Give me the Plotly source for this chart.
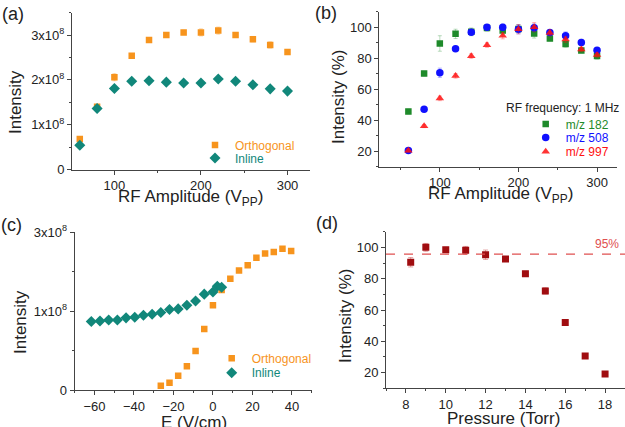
import plotly.graph_objects as go

# ---------------- data ----------------
# (a) intensity vs RF amplitude
rf_a = [60, 80, 100, 120, 140, 160, 180, 200, 220, 240, 260, 280, 300]
orth_a = [0.68e8, 1.40e8, 2.06e8, 2.54e8, 2.89e8, 3.00e8, 3.06e8, 3.06e8, 3.10e8, 3.00e8, 2.91e8, 2.78e8, 2.62e8]
orth_a_err = [0.05e8, 0.04e8, 0.08e8, 0.04e8, 0.04e8, 0.05e8, 0.05e8, 0.08e8, 0.08e8, 0.04e8, 0.06e8, 0.07e8, 0.04e8]
inl_a = [0.54e8, 1.36e8, 1.81e8, 1.97e8, 1.98e8, 1.95e8, 1.93e8, 1.93e8, 2.02e8, 1.97e8, 1.89e8, 1.80e8, 1.75e8]
inl_a_err = [0.03e8, 0.03e8, 0.03e8, 0.03e8, 0.03e8, 0.03e8, 0.03e8, 0.03e8, 0.03e8, 0.03e8, 0.03e8, 0.03e8, 0.03e8]

# (b) normalised intensity vs RF amplitude (1 MHz)
rf_b = [60, 80, 100, 120, 140, 160, 180, 200, 220, 240, 260, 280, 300]
mz182 = [45.6, 70.1, 89.5, 95.7, 97.0, 99.5, 97.9, 98.9, 96.0, 92.7, 89.1, 85.0, 81.4]
mz182_err = [1.5, 1.5, 5.0, 3.0, 2.5, 2.0, 2.5, 2.5, 3.0, 1.5, 2.0, 1.5, 2.0]
mz508 = [20.4, 47.1, 70.6, 86.1, 96.8, 100.0, 100.0, 98.7, 99.6, 96.6, 94.5, 90.2, 85.1]
mz508_err = [1.0, 1.0, 3.0, 1.5, 1.5, 1.5, 2.0, 3.0, 2.5, 1.5, 2.5, 2.0, 1.5]
mz997 = [20.4, 36.2, 54.1, 68.6, 81.4, 88.5, 94.5, 98.7, 100.0, 96.4, 92.1, 85.7, 82.1]
mz997_err = [1.0, 1.0, 1.5, 1.5, 1.5, 1.5, 2.0, 3.0, 3.0, 2.0, 2.0, 1.5, 1.5]

# (c) intensity vs field strength
e_orth = [-26.4, -22.0, -17.6, -13.2, -8.8, -4.4, 0.0, 4.4, 8.8, 13.2, 17.6, 22.0, 26.4, 30.8, 35.2, 39.6]
orth_c = [0.08e8, 0.14e8, 0.27e8, 0.45e8, 0.74e8, 1.16e8, 1.61e8, 1.90e8, 2.11e8, 2.27e8, 2.37e8, 2.51e8, 2.59e8, 2.62e8, 2.68e8, 2.64e8]
e_inl = [-61.6, -57.2, -52.8, -48.4, -44.0, -39.6, -35.2, -30.8, -26.4, -22.0, -17.6, -13.2, -8.8, -4.4, 0.0, 2.2, 4.4]
inl_c = [1.30e8, 1.31e8, 1.33e8, 1.33e8, 1.37e8, 1.38e8, 1.42e8, 1.44e8, 1.47e8, 1.53e8, 1.54e8, 1.61e8, 1.69e8, 1.82e8, 1.86e8, 1.97e8, 1.95e8]
c_tickvals = [0, 1.5e8, 3e8]
c_ticktext = ["0", "1x10<sup>8</sup>", "3x10<sup>8</sup>"]

# (d) normalised intensity vs pressure
pressure = [8.24, 9, 10, 11, 12, 13, 14, 15, 16, 17, 18]
int_d = [90.5, 100.0, 98.5, 98.1, 95.3, 92.6, 83.2, 72.2, 52.0, 30.6, 19.1]
int_d_err = [3.0, 2.5, 1.5, 2.5, 3.0, 1.5, 1.5, 2.0, 1.0, 1.0, 1.0]
threshold = 95.7

a_ticktext = ["0", "1x10<sup>8</sup>", "2x10<sup>8</sup>", "3x10<sup>8</sup>"]
a_tickvals = [0, 1e8, 2e8, 3e8]

# ---------------- styling ----------------
ORANGE = "#f7941d"
TEAL = "#11877a"
GREEN = "#1e8a2a"
BLUE = "#1010ff"
RED = "#ff1010"
DRED = "#a00d10"
AX = "#444444"
TXT = "#222222"
FONT = "Liberation Sans, Arial, sans-serif"
W, H = 625, 427


def px(x):
    return x / W


def py(y):
    return 1 - y / H


def axis(**kw):
    d = dict(showline=True, linecolor=AX, linewidth=1, ticks="outside", ticklen=4,
             tickcolor=AX, tickwidth=1, tickfont=dict(size=13, color=TXT, family=FONT),
             showgrid=False, zeroline=False, mirror=False, automargin=False)
    d.update(kw)
    return d


def colored(text, color):
    return f"<span style='color:{color}'>{text}</span>"


fig = go.Figure()

# (a)
fig.add_trace(go.Scatter(x=rf_a, y=orth_a, mode="markers", name=colored("Orthogonal", ORANGE),
                         marker=dict(symbol="square", size=6.5, color=ORANGE),
                         error_y=dict(type="data", array=orth_a_err, color="rgba(247,148,29,0.35)", thickness=1, width=2),
                         xaxis="x", yaxis="y", legend="legend"))
fig.add_trace(go.Scatter(x=rf_a, y=inl_a, mode="markers", name=colored("Inline", TEAL),
                         marker=dict(symbol="diamond", size=8.5, color=TEAL),
                         error_y=dict(type="data", array=inl_a_err, color="rgba(17,135,122,0.3)", thickness=1, width=2),
                         xaxis="x", yaxis="y", legend="legend2"))

# (b)
fig.add_trace(go.Scatter(x=rf_b, y=mz182, mode="markers", name=colored("m/z 182", GREEN),
                         marker=dict(symbol="square", size=6.5, color=GREEN),
                         error_y=dict(type="data", array=mz182_err, color="rgba(30,138,42,0.3)", thickness=1, width=2),
                         xaxis="x2", yaxis="y2", legend="legend3"))
fig.add_trace(go.Scatter(x=rf_b, y=mz508, mode="markers", name=colored("m/z 508", BLUE),
                         marker=dict(symbol="circle", size=7.5, color=BLUE),
                         error_y=dict(type="data", array=mz508_err, color="rgba(16,16,255,0.3)", thickness=1, width=2),
                         xaxis="x2", yaxis="y2", legend="legend4"))
fig.add_trace(go.Scatter(x=rf_b, y=mz997, mode="markers", name=colored("m/z 997", RED),
                         marker=dict(symbol="triangle-up", size=7.5, color=RED, opacity=0.85),
                         error_y=dict(type="data", array=mz997_err, color="rgba(255,16,16,0.3)", thickness=1, width=2),
                         xaxis="x2", yaxis="y2", legend="legend5"))

# (c)
fig.add_trace(go.Scatter(x=e_orth, y=orth_c, mode="markers", name=colored("Orthogonal", ORANGE),
                         marker=dict(symbol="square", size=6.5, color=ORANGE),
                         xaxis="x3", yaxis="y3", legend="legend6"))
fig.add_trace(go.Scatter(x=e_inl, y=inl_c, mode="markers", name=colored("Inline", TEAL),
                         marker=dict(symbol="diamond", size=8.5, color=TEAL),
                         xaxis="x3", yaxis="y3", legend="legend7"))

# (d)
fig.add_trace(go.Scatter(x=pressure, y=int_d, mode="markers", showlegend=False,
                         marker=dict(symbol="square", size=7, color=DRED),
                         error_y=dict(type="data", array=int_d_err, color="rgba(200,60,60,0.45)", thickness=1, width=2.5),
                         xaxis="x4", yaxis="y4"))

fig.add_shape(type="line", xref="x4 domain", x0=0, x1=1, yref="y4", y0=threshold, y1=threshold,
              line=dict(color="#e05050", width=1.2, dash="dash"))

leg_common = dict(bgcolor="rgba(0,0,0,0)", borderwidth=0, font=dict(size=12, family=FONT),
                  xanchor="left", yanchor="middle", itemwidth=30, tracegroupgap=0)


def leg(mx, my):
    # mx: marker centre (px), my: row centre (px)
    return dict(x=px(mx - 20), y=py(my), **leg_common)


fig.update_layout(
    template="none",
    width=W, height=H, margin=dict(l=0, r=0, t=0, b=0, autoexpand=False),
    paper_bgcolor="white", plot_bgcolor="white",
    font=dict(family=FONT, color=TXT),
    xaxis=axis(domain=[px(72), px(310)], range=[51, 326], dtick=100, tick0=0,
               minor=dict(ticks="outside", ticklen=2, dtick=50, tickcolor=AX), anchor="y"),
    yaxis=axis(domain=[py(169.5), py(12.7)], range=[0, 3.5e8], tickvals=a_tickvals, ticktext=a_ticktext,
               minor=dict(ticks="outside", ticklen=2, dtick=0.5e8, tickcolor=AX), anchor="x"),
    xaxis2=axis(domain=[px(379.3), px(616.7)], range=[23, 325], dtick=100, tick0=0,
                minor=dict(ticks="outside", ticklen=2, dtick=50, tickcolor=AX), anchor="y2"),
    yaxis2=axis(domain=[py(166.7), py(11.7)], range=[10, 110], dtick=20, tick0=0,
                minor=dict(ticks="outside", ticklen=2, dtick=10, tickcolor=AX), anchor="x2"),
    xaxis3=axis(domain=[px(74.7), px(311.7)], range=[-70, 50], dtick=20, tick0=0,
                minor=dict(ticks="outside", ticklen=2, dtick=10, tickcolor=AX), anchor="y3"),
    yaxis3=axis(domain=[py(390), py(232)], range=[0, 3e8], tickvals=c_tickvals, ticktext=c_ticktext,
                minor=dict(ticks="outside", ticklen=2, dtick=0.75e8, tickcolor=AX), anchor="x3"),
    xaxis4=axis(domain=[px(386), px(625)], range=[7, 19], dtick=2, tick0=0,
                minor=dict(ticks="outside", ticklen=2, dtick=1, tickcolor=AX), anchor="y4"),
    yaxis4=axis(domain=[py(388.3), py(231.7)], range=[10, 110], dtick=20, tick0=0,
                minor=dict(ticks="outside", ticklen=2, dtick=10, tickcolor=AX), anchor="x4"),
    legend=leg(215, 145),
    legend2=leg(215, 158),
    legend3=leg(545.7, 124),
    legend4=leg(545.7, 137.5),
    legend5=leg(545.7, 151.5),
    legend6=leg(231.7, 358.3),
    legend7=leg(231.7, 372.7),
)

ann = []


def title(text, x, y, angle=0, size=17):
    ann.append(dict(text=text, xref="paper", yref="paper", x=px(x), y=py(y), showarrow=False,
                    xanchor="center", yanchor="middle", textangle=angle,
                    font=dict(size=size, color=TXT, family=FONT)))


# panel labels
for lab, x, y in [("(a)", 13, 14), ("(b)", 326, 13), ("(c)", 12, 225), ("(d)", 327, 223)]:
    title(lab, x, y, size=18)

# axis titles
title("Intensity", 15, 102, angle=-90)
title("RF Amplitude (V<sub>PP</sub>)", 190, 198)
title("Intensity (%)", 338, 97, angle=-90)
title("RF Amplitude (V<sub>PP</sub>)", 500, 195)
title("Intensity", 20, 322, angle=-90)
title("E (V/cm)", 194, 422)
title("Intensity (%)", 345, 316, angle=-90)
title("Pressure (Torr)", 503, 418)

# legend title of (b)
ann.append(dict(text="RF frequency: 1 MHz", xref="paper", yref="paper", x=px(504), y=py(107.7),
                showarrow=False, xanchor="left", yanchor="middle",
                font=dict(size=12, color=TXT, family=FONT)))

# 95% label in (d)
ann.append(dict(text="95%", xref="x4", yref="y4", x=18.1, y=threshold, yanchor="bottom", yshift=1,
                showarrow=False, font=dict(size=12, color="#e05050", family=FONT)))

fig.update_layout(annotations=ann)

fig.write_html("out.html", config={"displayModeBar": False},
               post_script="document.body.style.margin='0';document.body.style.overflow='hidden';")
